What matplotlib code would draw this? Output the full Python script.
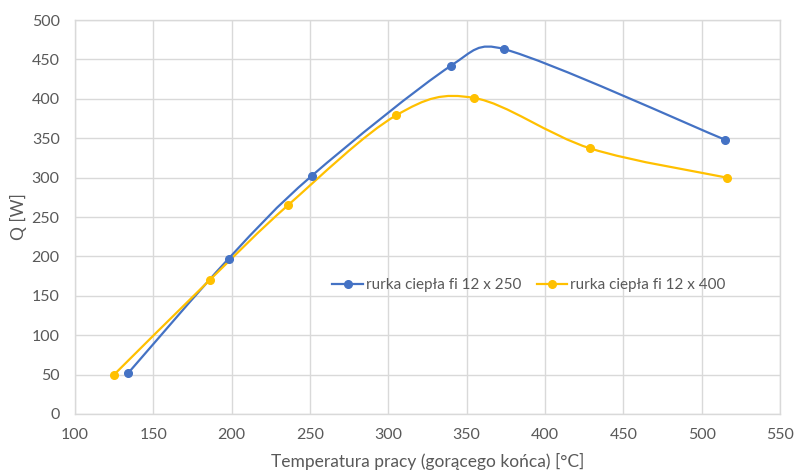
import matplotlib
matplotlib.use("Agg")
import matplotlib.pyplot as plt
from matplotlib.path import Path
from matplotlib.patches import PathPatch
from matplotlib.lines import Line2D
import numpy as np

plt.rcParams['font.family'] = ['Lato', 'DejaVu Sans']

# data
temp_250 = [134, 198, 251, 340, 374, 515]
q_250 = [52, 197, 302, 442, 463, 348]
temp_400 = [125, 186, 236, 305, 355, 429, 516]
q_400 = [50, 170, 265, 379, 401, 337, 300]

labels = ["rurka ciepła fi 12 x 250", "rurka ciepła fi 12 x 400"]
colors = ["#4472C4", "#FFC000"]
x_ticks = [100, 150, 200, 250, 300, 350, 400, 450, 500, 550]
y_ticks = [0, 50, 100, 150, 200, 250, 300, 350, 400, 450, 500]

TEXT = "#595959"
GRID = "#D9D9D9"

# rough pixel size of one data unit, so control points are clamped on screen
SX, SY = 705 / 450.0, 394 / 500.0


def smooth_path(xs, ys):
    # Excel style smoothed line: bezier segments, control arms at most half a segment
    pts = np.column_stack([np.array(xs) * SX, np.array(ys) * SY]).astype(float)
    n = len(pts)
    verts = [pts[0]]
    codes = [Path.MOVETO]
    for i in range(n - 1):
        p0 = pts[i - 1] if i > 0 else pts[i]
        p1 = pts[i]
        p2 = pts[i + 1]
        p3 = pts[i + 2] if i + 2 < n else pts[i + 1]
        d12 = np.hypot(*(p2 - p1))
        d02 = np.hypot(*(p2 - p0))
        d13 = np.hypot(*(p3 - p1))
        f1 = min(1 / 6.0, d12 / (2 * d02)) if d02 > 0 else 0
        f2 = min(1 / 6.0, d12 / (2 * d13)) if d13 > 0 else 0
        c1 = p1 + (p2 - p0) * f1
        c2 = p2 - (p3 - p1) * f2
        verts += [c1, c2, p2]
        codes += [Path.CURVE4] * 3
    verts = np.array(verts) / np.array([SX, SY])
    return Path(verts, codes)


fig = plt.figure(figsize=(7.95, 4.72), dpi=100)
ax = fig.add_axes([0.0943, 0.1229, 0.8868, 0.8347])

series = [(temp_250, q_250), (temp_400, q_400)]
handles = []
for (xs, ys), lab, col in zip(series, labels, colors):
    ax.add_patch(PathPatch(smooth_path(xs, ys), facecolor="none", edgecolor=col,
                           linewidth=1.6, zorder=3, capstyle="round"))
    ax.plot(xs, ys, linestyle="none", marker="o", markersize=5.5, color=col, zorder=4)
    handles.append(Line2D([], [], color=col, linewidth=1.6, marker="o", markersize=5.5))

ax.set_xlim(100, 550)
ax.set_ylim(0, 500)
ax.set_xticks(x_ticks)
ax.set_yticks(y_ticks)
ax.grid(True, color=GRID, linewidth=1)
ax.set_axisbelow(True)
for s in ax.spines.values():
    s.set_color(GRID)
    s.set_linewidth(1)
ax.tick_params(length=0, labelsize=11.5, colors=TEXT)
ax.tick_params(axis="y", pad=11)
ax.tick_params(axis="x", pad=10)

ax.set_xlabel("Temperatura pracy (gorącego końca) [°C]", fontsize=12.5, color=TEXT, labelpad=8)
ax.set_ylabel("Q [W]", fontsize=12.5, color=TEXT, labelpad=3)

ax.legend(handles, labels, loc="center", bbox_to_anchor=(0.644, 0.327), ncol=2,
          frameon=False, fontsize=11, labelcolor=TEXT, handlelength=2.0,
          handletextpad=0.2, columnspacing=1.0)

fig.savefig("out.png", dpi=100)
